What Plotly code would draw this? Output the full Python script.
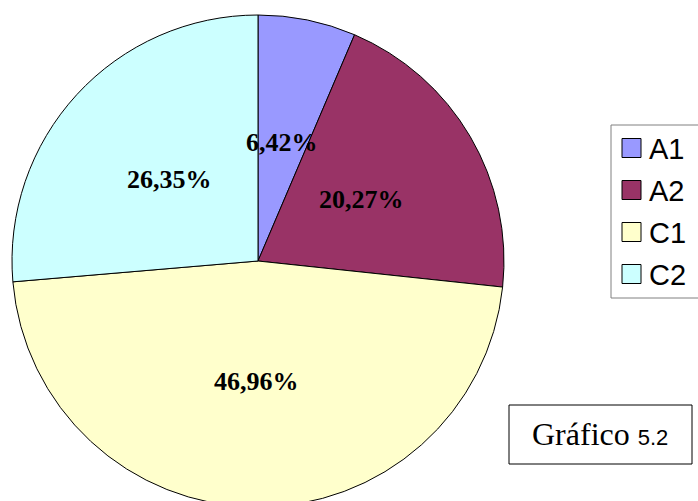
import math
import plotly.graph_objects as go

# ---- data ----
categories = ["A1", "A2", "C1", "C2"]
values = [6.42, 20.27, 46.96, 26.35]
colors = ["#9999FF", "#993366", "#FFFFCC", "#CCFFFF"]
caption_main = "Gráfico"
caption_num = "5.2"

# ---- geometry (pixels) ----
W, H = 698, 512
CX, CY, R = 258, 261, 246
LABEL_FRAC = 0.49


def px(x):
    return x / W


def py(y):
    return 1 - y / H


fig = go.Figure(
    go.Pie(
        labels=categories,
        values=values,
        sort=False,
        direction="clockwise",
        rotation=0,
        marker=dict(colors=colors, line=dict(color="#000000", width=1)),
        textinfo="none",
        hoverinfo="label+percent",
        showlegend=False,
        domain=dict(x=[px(CX - R), px(CX + R)], y=[py(CY + R), py(CY - R)]),
    )
)

annotations = []
shapes = []

# percentage labels placed along each slice's mid-angle
total = sum(values)
cum = 0.0
for v in values:
    a = (cum + v / 2) / total * 2 * math.pi
    cum += v
    lx = CX + LABEL_FRAC * R * math.sin(a)
    ly = CY - LABEL_FRAC * R * math.cos(a)
    annotations.append(
        dict(
            x=px(lx), y=py(ly), xref="paper", yref="paper",
            text=f"<b>{v:.2f}%</b>".replace(".", ","),
            showarrow=False, xanchor="center", yanchor="middle",
            font=dict(family="Liberation Serif, Times New Roman, serif", size=26, color="#000000"),
        )
    )

# legend box
LEG_L, LEG_T, LEG_B = 611, 125, 298
shapes.append(dict(type="rect", xref="paper", yref="paper",
                   x0=px(LEG_L), x1=px(W + 10), y0=py(LEG_B), y1=py(LEG_T),
                   line=dict(color="#808080", width=1), fillcolor="white", layer="above"))
ROW0, ROWSTEP, SW = 148, 42, 19
for i, (cat, col) in enumerate(zip(categories, colors)):
    yc = ROW0 + i * ROWSTEP
    shapes.append(dict(type="rect", xref="paper", yref="paper",
                       x0=px(622), x1=px(622 + SW), y0=py(yc + SW / 2), y1=py(yc - SW / 2),
                       line=dict(color="#000000", width=1), fillcolor=col, layer="above"))
    annotations.append(dict(x=px(647), y=py(yc + 1), xref="paper", yref="paper",
                            text=cat, showarrow=False, xanchor="left", yanchor="middle",
                            font=dict(family="Liberation Sans, Arial, sans-serif", size=29, color="#000000")))

# caption box
shapes.append(dict(type="rect", xref="paper", yref="paper",
                   x0=px(509), x1=px(692), y0=py(464), y1=py(405),
                   line=dict(color="#000000", width=1), fillcolor="white", layer="above"))
annotations.append(dict(
    x=px(600), y=py(434), xref="paper", yref="paper", showarrow=False,
    xanchor="center", yanchor="middle",
    text=f"{caption_main} <span style='font-family:Liberation Sans, Arial, sans-serif;font-size:22px'>{caption_num}</span>",
    font=dict(family="Liberation Serif, Times New Roman, serif", size=32, color="#000000"),
))

fig.update_layout(
    width=W, height=H,
    margin=dict(l=0, r=0, t=0, b=0),
    paper_bgcolor="white", plot_bgcolor="white",
    shapes=shapes, annotations=annotations,
    showlegend=False,
)

fig.write_html(
    "out.html",
    config={"displayModeBar": False},
    post_script="document.documentElement.style.overflow='hidden';document.body.style.overflow='hidden';document.body.style.margin='0';",
)
